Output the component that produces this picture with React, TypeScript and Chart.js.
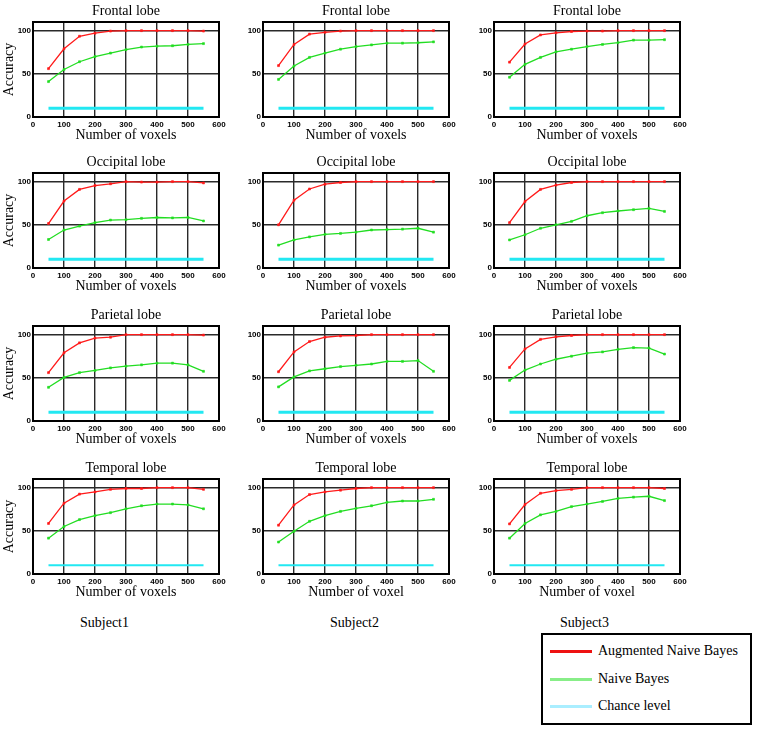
import React, { useEffect, useRef } from 'react';
import { Chart, registerables } from 'chart.js';

Chart.register(...registerables);

// ---------- data ----------
const voxels = [50, 100, 150, 200, 250, 300, 350, 400, 450, 500, 550];
const chanceLevel = [10, 10, 10, 10, 10, 10, 10, 10, 10, 10, 10];

const augFrontal1 = [56, 79, 93.5, 97, 99.5, 100, 100, 100, 100, 100, 99.5];
const nbFrontal1 = [41, 55, 64, 70, 74, 78, 81, 82, 82.5, 84, 85];
const augFrontal2 = [59.5, 84, 96, 98, 99.5, 100, 100, 100, 100, 100, 100];
const nbFrontal2 = [43.5, 59, 69, 74, 78.5, 81.5, 83.5, 85.5, 85.5, 86, 87];
const augFrontal3 = [63.5, 84.5, 95, 97.5, 99, 99.5, 99.5, 100, 100, 100, 100];
const nbFrontal3 = [46, 61, 69, 75.5, 78.5, 81.5, 84, 86, 89, 89, 89.5];

const augOccipital1 = [51.5, 77.5, 91, 95.5, 97.5, 100, 99.5, 99.5, 100, 100, 98.5];
const nbOccipital1 = [33, 44, 48.5, 52.5, 55.5, 56, 57.5, 58.5, 58, 58.5, 54.5];
const augOccipital2 = [50, 78.5, 91.5, 97, 99, 100, 100, 100, 100, 100, 100];
const nbOccipital2 = [26.5, 32.5, 36, 39, 40, 41.5, 44, 44.5, 45, 46, 41.5];
const augOccipital3 = [52.5, 77, 91, 96, 99, 100, 100, 100, 100, 100, 100];
const nbOccipital3 = [32.5, 38.5, 46, 50, 54, 60.5, 64, 66, 67.5, 69, 65.5];

const augParietal1 = [56, 79, 90.5, 96, 97, 100, 100, 100, 100, 100, 99.5];
const nbParietal1 = [39, 50.5, 56, 58.5, 61.5, 63.5, 65, 67, 67, 65, 57.5];
const augParietal2 = [57, 80, 92, 97, 98.5, 99, 100, 100, 100, 100, 100];
const nbParietal2 = [39.5, 51, 58, 60.5, 63, 64.5, 66, 69, 69, 70, 57.5];
const augParietal3 = [62, 83.5, 94.5, 97.5, 99, 100, 100, 100, 100, 100, 100];
const nbParietal3 = [47, 59, 66, 71.5, 75, 78.5, 80, 83, 85, 84.5, 77.5];

const augTemporal1 = [58.5, 82, 92.5, 95, 98, 99, 99, 100, 100, 100, 98];
const nbTemporal1 = [41.5, 55, 63, 67.5, 71, 75.5, 79, 81, 81, 80, 75.5];
const augTemporal2 = [56.5, 80, 92, 95, 97, 99, 100, 100, 100, 100, 100];
const nbTemporal2 = [37, 49.5, 61, 67.5, 72.5, 76, 79, 83, 84.5, 84.5, 86.5];
const augTemporal3 = [58, 80.5, 93.5, 96.5, 98, 100, 100, 100, 100, 100, 99];
const nbTemporal3 = [41.5, 58.5, 68.5, 72.5, 78, 81, 84, 87.5, 89, 90, 85];

const lobeTitles = ['Frontal lobe', 'Occipital lobe', 'Parietal lobe', 'Temporal lobe'];
const subjectLabels = ['Subject1', 'Subject2', 'Subject3'];
const xAxisTitles = ['Number of voxels', 'Number of voxels', 'Number of voxels', 'Number of voxels'];
const xAxisTitlesLastRow = ['Number of voxels', 'Number of voxel', 'Number of voxel'];
const yAxisTitle = 'Accuracy';
const legendLabels = ['Augmented Naive Bayes', 'Naive Bayes', 'Chance level'];
const xTicks = [0, 100, 200, 300, 400, 500, 600];
const yTicks = [0, 50, 100];

const augGrid = [
  [augFrontal1, augFrontal2, augFrontal3],
  [augOccipital1, augOccipital2, augOccipital3],
  [augParietal1, augParietal2, augParietal3],
  [augTemporal1, augTemporal2, augTemporal3],
];
const nbGrid = [
  [nbFrontal1, nbFrontal2, nbFrontal3],
  [nbOccipital1, nbOccipital2, nbOccipital3],
  [nbParietal1, nbParietal2, nbParietal3],
  [nbTemporal1, nbTemporal2, nbTemporal3],
];

// ---------- style / layout ----------
const SERIF = '"Liberation Serif", "Times New Roman", serif';
const SANS = '"Liberation Sans", Arial, sans-serif';
const RED = '#ff1a1a';
const GREEN = '#22dd22';
const CYAN = '#22e8f2';
const GRID = '#2a2a2a';

const COL_LEFT = [33, 263, 494];
const ROW_TOP = [22, 173, 326, 479];
const PLOT_W = 186;
const PLOT_H = 95;
const TITLE_H = 22;
const XAXIS_H = 28;
const RIGHT_PAD = 12;

const boxPlugin = {
  id: 'plotBox',
  beforeDatasetsDraw(chart: any) {
    const { ctx, chartArea } = chart;
    ctx.save();
    ctx.strokeStyle = '#000';
    ctx.lineWidth = 2;
    ctx.strokeRect(chartArea.left, chartArea.top, chartArea.right - chartArea.left, chartArea.bottom - chartArea.top);
    ctx.restore();
  },
};

type PanelProps = {
  title: string;
  aug: number[];
  nb: number[];
  xTitle: string;
  showY: boolean;
  plotLeft: number;
  plotTop: number;
  chanceWidth: number;
};

function Panel({ title, aug, nb, xTitle, showY, plotLeft, plotTop, chanceWidth }: PanelProps) {
  const ref = useRef<HTMLCanvasElement>(null);
  const yW = showY ? 33 : 22;
  const width = yW + PLOT_W + RIGHT_PAD;
  const height = TITLE_H + PLOT_H + XAXIS_H;

  useEffect(() => {
    if (!ref.current) return;
    const tickFont = { family: SANS, size: 8, weight: 'bold' };
    const chart = new Chart(ref.current, {
      type: 'line',
      data: {
        datasets: [
          {
            data: voxels.map((x, i) => ({ x, y: aug[i] })),
            borderColor: RED,
            backgroundColor: RED,
            borderWidth: 1.3,
            pointStyle: 'rect',
            pointRadius: 1.4,
            pointBorderWidth: 0.6,
            tension: 0,
          },
          {
            data: voxels.map((x, i) => ({ x, y: nb[i] })),
            borderColor: GREEN,
            backgroundColor: GREEN,
            borderWidth: 1.3,
            pointStyle: 'rect',
            pointRadius: 1.4,
            pointBorderWidth: 0.6,
            tension: 0,
          },
          {
            data: voxels.map((x, i) => ({ x, y: chanceLevel[i] })),
            borderColor: CYAN,
            backgroundColor: CYAN,
            borderWidth: chanceWidth,
            pointRadius: 0,
            tension: 0,
          },
        ],
      },
      options: {
        animation: false,
        responsive: false,
        events: [],
        layout: { padding: { left: 0, right: RIGHT_PAD, top: 0, bottom: 0 } },
        plugins: {
          legend: { display: false },
          tooltip: { enabled: false },
          title: {
            display: true,
            text: title,
            color: '#000',
            font: { family: SERIF, size: 14, weight: 'normal' },
            padding: { top: 3, bottom: TITLE_H - 3 - 16.8 },
            fullSize: false,
          },
        },
        scales: {
          x: {
            type: 'linear',
            min: 0,
            max: 600,
            afterBuildTicks: (s: any) => {
              s.ticks = xTicks.map((value) => ({ value }));
            },
            ticks: { font: tickFont, color: '#000', padding: 3, maxRotation: 0, autoSkip: false },
            grid: { color: GRID, lineWidth: 1.4, drawTicks: false },
            border: { color: '#000', width: 2 },
            title: {
              display: true,
              text: xTitle,
              color: '#000',
              font: { family: SERIF, size: 14 },
              padding: { top: 0, bottom: 1.3 },
            },
            afterFit: (s: any) => {
              s.height = XAXIS_H;
              s.paddingLeft = 0;
              s.paddingRight = 0;
            },
          },
          y: {
            type: 'linear',
            min: 0,
            max: 110,
            afterBuildTicks: (s: any) => {
              s.ticks = yTicks.map((value) => ({ value }));
            },
            ticks: { font: tickFont, color: '#000', padding: 2, autoSkip: false },
            grid: { color: GRID, lineWidth: 1.4, drawTicks: false },
            border: { color: '#000', width: 2 },
            title: {
              display: showY,
              text: yAxisTitle,
              color: '#000',
              font: { family: SERIF, size: 14 },
              padding: { top: 0.6, bottom: 0 },
            },
            afterFit: (s: any) => {
              s.width = yW;
              s.paddingTop = 0;
              s.paddingBottom = 0;
            },
          },
        },
      } as any,
      plugins: [boxPlugin],
    });
    return () => chart.destroy();
  }, []);

  return (
    <canvas
      ref={ref}
      width={width}
      height={height}
      style={{
        position: 'absolute',
        left: plotLeft - yW,
        top: plotTop - TITLE_H,
        width,
        height,
      }}
    />
  );
}

const legendColors = ['#ee1111', '#88ee88', '#aaeeff'];
const legendRowY = [651, 679, 706];

export default function App() {
  const panels: React.ReactNode[] = [];
  for (let r = 0; r < 4; r++) {
    for (let c = 0; c < 3; c++) {
      panels.push(
        <Panel
          key={`${r}-${c}`}
          title={lobeTitles[r]}
          aug={augGrid[r][c]}
          nb={nbGrid[r][c]}
          xTitle={r === 3 ? xAxisTitlesLastRow[c] : xAxisTitles[r]}
          showY={c === 0}
          plotLeft={COL_LEFT[c]}
          plotTop={ROW_TOP[r]}
          chanceWidth={r === 3 ? 2 : 3}
        />
      );
    }
  }
  const subjectX = [80, 330, 560];
  return (
    <div
      style={{
        position: 'absolute',
        left: 0,
        top: 0,
        width: 759,
        height: 731,
        background: '#fff',
        fontFamily: SERIF,
        overflow: 'hidden',
      }}
    >
      {panels}
      {subjectLabels.map((s, i) => (
        <div
          key={s}
          style={{ position: 'absolute', left: subjectX[i], top: 614, fontSize: 14, lineHeight: '18px', color: '#000' }}
        >
          {s}
        </div>
      ))}
      <div
        style={{
          position: 'absolute',
          left: 541,
          top: 633,
          width: 211,
          height: 92,
          border: '2px solid #000',
          boxSizing: 'border-box',
        }}
      />
      {legendLabels.map((l, i) => (
        <React.Fragment key={l}>
          <div
            style={{
              position: 'absolute',
              left: 550,
              top: legendRowY[i] - 1.5,
              width: 42,
              height: 3,
              background: legendColors[i],
            }}
          />
          <div
            style={{
              position: 'absolute',
              left: 598,
              top: legendRowY[i] - 9,
              fontSize: 14,
              lineHeight: '18px',
              color: '#000',
              whiteSpace: 'nowrap',
            }}
          >
            {l}
          </div>
        </React.Fragment>
      ))}
    </div>
  );
}
